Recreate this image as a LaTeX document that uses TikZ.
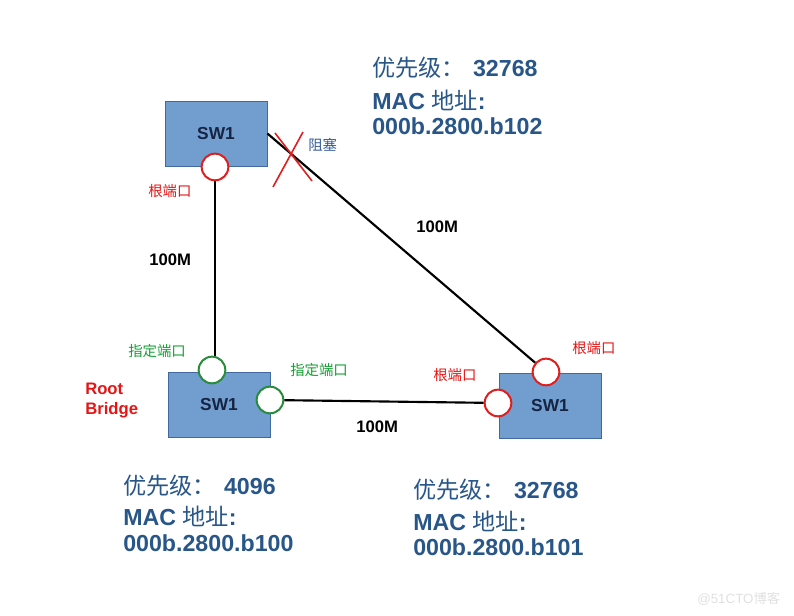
\documentclass[tikz,border=0pt]{standalone}
\usepackage{fontspec}
\setmainfont{Liberation Sans}
\newfontfamily\cjk{Noto Sans CJK SC}
\usepackage{tikz}
\usetikzlibrary{positioning}
\definecolor{swfill}{RGB}{114,157,207}
\definecolor{swline}{RGB}{65,105,160}
\definecolor{swtext}{RGB}{22,36,66}
\definecolor{infoblue}{RGB}{40,86,136}
\definecolor{portred}{RGB}{225,30,30}
\definecolor{portgreen}{RGB}{40,140,60}
\definecolor{lblred}{RGB}{230,20,20}
\definecolor{lblgreen}{RGB}{20,160,50}
\definecolor{blkblue}{RGB}{50,90,150}

\begin{document}
\begin{tikzpicture}[x=0.75pt,y=-0.75pt,
    switchbox/.style={draw=swline, fill=swfill, line width=0.6pt, minimum width=76.5pt, minimum height=48.75pt, inner sep=0pt, text=swtext, font=\fontsize{13}{15}\selectfont\bfseries},
    rootport/.style={circle, draw=portred, line width=1.5pt, fill=white, minimum size=20pt, inner sep=0pt},
    desigport/.style={rootport, draw=portgreen},
    link/.style={black, line width=1.6pt},
    speed/.style={anchor=west, inner sep=0pt, font=\fontsize{12.5}{15}\selectfont\bfseries},
    tag/.style={anchor=west, inner sep=0pt, font=\fontsize{10.8}{13}\selectfont\cjk},
    info/.style={anchor=west, inner sep=0pt, text=infoblue, font=\fontsize{17.4}{20}\selectfont\bfseries}]
    \useasboundingbox (0,0) rectangle (794,616);
    % switches
    \node[switchbox] (sw1) at (216,133.5) {SW1};
    \node[switchbox] (sw2) at (219,405) {SW1};
    \node[switchbox] (sw3) at (550,405.5) {SW1};
    % ports
    \node[rootport] (rp1) at (215,167) {};
    \node[desigport] (dp1) at (212,370) {};
    \node[desigport] (dp2) at (270,400) {};
    \node[rootport] (rp2) at (498,403) {};
    \node[rootport] (rp3) at (546,372) {};
    % links
    \draw[link] (rp1.south) -- (rp1.south |- dp1.north);
    \draw[link] (sw1.east) -- (rp3);
    \draw[link] (dp2) -- (rp2);
    % blocked port
    \draw[portred, line width=1.2pt] (275,133) -- (312,181);
    \draw[portred, line width=1.2pt] (273,187) -- (303,132);
    \node[tag, text=blkblue] (blk) at (308,145) {阻塞};
    % link speeds
    \node[speed] (s1) at (149,260) {100M};
    \node[speed] (s2) at (416,227) {100M};
    \node[speed] (s3) at (356,427) {100M};
    % port roles
    \node[tag, text=lblred] (t1) at (148,191) {根端口};
    \node[tag, text=lblgreen] (t2) at (128,351) {指定端口};
    \node[tag, text=lblgreen] (t3) at (290,370) {指定端口};
    \node[tag, text=lblred] (t4) at (433,375) {根端口};
    \node[tag, text=lblred] (t5) at (572,348) {根端口};
    \node[anchor=west, inner sep=0pt, align=left, text=lblred, font=\fontsize{12.5}{15}\selectfont\bfseries] (root) at (85,401) {Root\\Bridge};
    % bridge info
    \node[info] (i1a) at (372,68) {{\cjk\mdseries 优先级：}\hspace{6pt}32768};
    \node[info] (i1b) at (372,100) {MAC {\cjk\mdseries 地址}:};
    \node[info] (i1c) at (372,126) {000b.2800.b102};
    \node[info] (i2a) at (123,486) {{\cjk\mdseries 优先级：}\hspace{6pt}4096};
    \node[info] (i2b) at (123,516) {MAC {\cjk\mdseries 地址}:};
    \node[info] (i2c) at (123,543) {000b.2800.b100};
    \node[info] (i3a) at (413,490) {{\cjk\mdseries 优先级：}\hspace{6pt}32768};
    \node[info] (i3b) at (413,521) {MAC {\cjk\mdseries 地址}:};
    \node[info] (i3c) at (413,547) {000b.2800.b101};
    % watermark
    \node[anchor=west, inner sep=0pt, text=black!12, font=\fontsize{10}{12}\selectfont] (wm) at (697,599) {@51CTO{\cjk 博客}};
\end{tikzpicture}
\end{document}
